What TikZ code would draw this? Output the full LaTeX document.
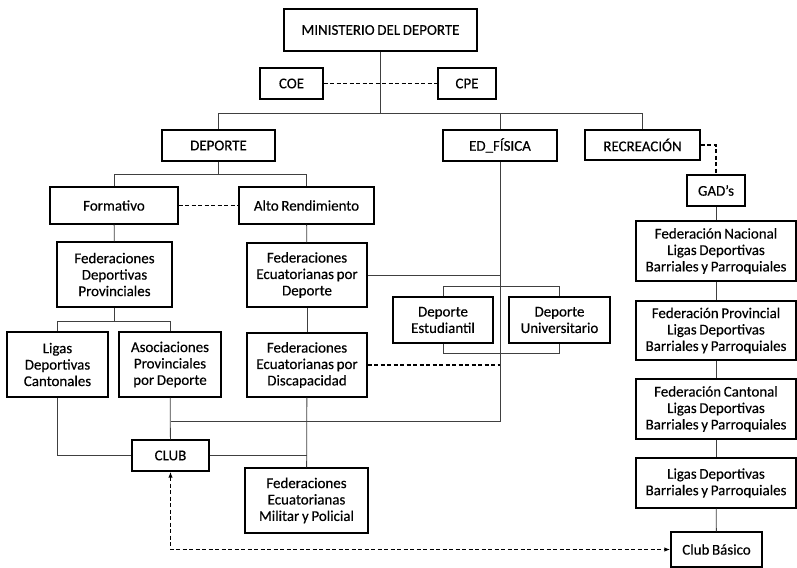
\documentclass[tikz,border=0pt]{standalone}
\usepackage{fontspec}
\setmainfont{Carlito}[FakeBold=0.35,WordSpace=0.8]
\usetikzlibrary{arrows.meta}
\begin{document}
\begin{tikzpicture}[x=1bp,y=-1bp,
  >={Latex[length=6bp,width=4.5bp]},
  box/.style={draw,line width=1.4bp,align=center,inner sep=1bp,font=\fontsize{15}{16.5}\selectfont},
  conn/.style={draw=black!75,line width=0.8bp},
  dashln/.style={draw,line width=1.6bp,dash pattern=on 4bp off 2.5bp}]
  \useasboundingbox (0,0) rectangle (797,568);
  % top level
  \node[box,minimum width=193bp,minimum height=42bp] (mindep) at (380.5,30) {MINISTERIO DEL DEPORTE};
  \node[box,minimum width=63bp,minimum height=31bp] (coe) at (291.5,83.5) {COE};
  \node[box,minimum width=58bp,minimum height=31bp] (cpe) at (467,83.5) {CPE};
  \node[box,minimum width=113bp,minimum height=31bp] (deporte) at (218.5,145.5) {DEPORTE};
  \node[box,minimum width=114bp,minimum height=31bp] (edfis) at (500,145.5) {ED\_FÍSICA};
  \node[box,minimum width=115bp,minimum height=30bp] (recrea) at (642.5,145) {RECREACIÓN};
  % deporte branch
  \node[box,minimum width=128bp,minimum height=37bp] (formativo) at (114,205.5) {Formativo};
  \node[box,minimum width=135bp,minimum height=37bp] (alto) at (306.5,205.5) {Alto Rendimiento};
  \node[box,minimum width=115bp,minimum height=65bp] (fdp) at (114.5,274.5) {Federaciones\\Deportivas\\Provinciales};
  \node[box,minimum width=120bp,minimum height=64bp] (fepd) at (307,275) {Federaciones\\Ecuatorianas por\\Deporte};
  \node[box,minimum width=101bp,minimum height=65bp] (ligcant) at (57.5,364.5) {Ligas\\Deportivas\\Cantonales};
  \node[box,minimum width=102bp,minimum height=65bp] (asoc) at (170,364.5) {Asociaciones\\Provinciales\\por Deporte};
  \node[box,minimum width=120bp,minimum height=64bp] (fepdisc) at (307,365) {Federaciones\\Ecuatorianas por\\Discapacidad};
  \node[box,minimum width=77bp,minimum height=31bp] (club) at (170.5,455.5) {CLUB};
  \node[box,minimum width=123bp,minimum height=65bp] (femp) at (306.5,500.5) {Federaciones\\Ecuatorianas\\Militar y Policial};
  % ed. fisica branch
  \node[box,minimum width=100bp,minimum height=46bp] (destu) at (443,320) {Deporte\\Estudiantil};
  \node[box,minimum width=101bp,minimum height=46bp] (duniv) at (559.5,320) {Deporte\\Universitario};
  % recreacion branch
  \node[box,minimum width=58bp,minimum height=31bp] (gads) at (716,190.5) {GAD’s};
  \node[box,minimum width=160bp,minimum height=60bp] (fednac) at (716,251) {Federación Nacional\\Ligas Deportivas\\Barriales y Parroquiales};
  \node[box,minimum width=160bp,minimum height=59bp] (fedprov) at (716,330.5) {Federación Provincial\\Ligas Deportivas\\Barriales y Parroquiales};
  \node[box,minimum width=160bp,minimum height=60bp] (fedcant) at (716,409) {Federación Cantonal\\Ligas Deportivas\\Barriales y Parroquiales};
  \node[box,minimum width=160bp,minimum height=50bp] (ligasbar) at (716,483) {Ligas Deportivas\\Barriales y Parroquiales};
  \node[box,minimum width=91bp,minimum height=35bp] (clubbas) at (716.5,549.5) {Club Básico};

  \coordinate (bus1) at (380.5,113);
  \coordinate (bus2) at (218.5,174);
  \coordinate (bus3) at (114.5,321);
  \coordinate (edend) at (500,421);

  \draw[dashln] (coe) -- (cpe);
  \draw[conn] (mindep) -- (bus1);
  \draw[conn] (deporte.north) -- (deporte.north |- bus1) -| (recrea.north);
  \draw[conn] (edfis.north) -- (edfis.north |- bus1);
  \draw[conn] (deporte) -- (bus2);
  \draw[conn] (formativo.north) -- (formativo.north |- bus2) -| (alto.north);
  \draw[dashln] (formativo) -- (alto);
  \draw[conn] (formativo) -- (fdp);
  \draw[conn] (fdp) -- (bus3);
  \draw[conn] (ligcant.north) -- (ligcant.north |- bus3) -| (asoc.north);
  \draw[conn] (alto) -- (fepd);
  \draw[conn] (fepd) -- (fepdisc);
  \draw[conn] (fepdisc) -- (femp);
  \draw[conn] (fepd.east) -- (fepd.east -| edfis);
  \draw[conn] (edfis) -- (edend) -- (edend -| club);
  \draw[dashln] (fepdisc.east) -- (fepdisc.east -| edfis);
  \draw[conn] (destu.north) -- ++(0,-10) -| (duniv.north);
  \draw[conn] (destu.south) -- ++(0,10) -| (duniv.south);
  \draw[conn] (asoc) -- (club);
  \draw[conn] (ligcant.south) |- (club.west);
  \draw[conn] (club.east) -- (club.east -| fepdisc);
  \draw[dashln] (recrea.east) -| (gads.north);
  \draw[conn] (gads) -- (fednac);
  \draw[conn] (fednac) -- (fedprov);
  \draw[conn] (fedprov) -- (fedcant);
  \draw[conn] (fedcant) -- (ligasbar);
  \draw[conn] (ligasbar) -- (clubbas);
  \draw[dashln,<->] (club.south) |- (clubbas.west);
\end{tikzpicture}
\end{document}
